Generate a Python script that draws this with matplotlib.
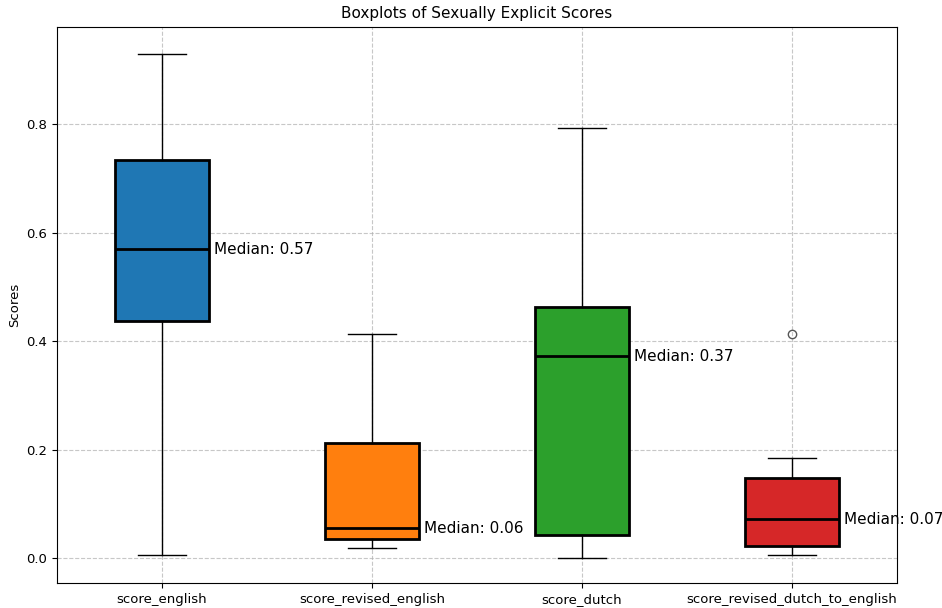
import matplotlib
matplotlib.use("Agg")
import matplotlib.pyplot as plt

labels = ["score_english", "score_revised_english", "score_dutch", "score_revised_dutch_to_english"]
colors = ["#1f77b4", "#ff7f0e", "#2ca02c", "#d62728"]
whislo = [0.0055, 0.018, 0.0, 0.0055]
q1 = [0.438, 0.035, 0.042, 0.022]
med = [0.570, 0.055, 0.372, 0.072]
q3 = [0.734, 0.213, 0.463, 0.147]
whishi = [0.930, 0.414, 0.794, 0.184]
fliers = [[], [], [], [0.414]]

stats = []
for i in range(len(labels)):
    stats.append(dict(label=labels[i], whislo=whislo[i], q1=q1[i], med=med[i],
                      q3=q3[i], whishi=whishi[i], fliers=fliers[i]))

fig = plt.figure(figsize=(9.42, 6.08), dpi=100)
ax = fig.add_axes([0.0605, 0.041, 0.8917, 0.915])

bp = ax.bxp(stats, widths=0.45, patch_artist=True,
            boxprops=dict(linewidth=2, edgecolor="black"),
            medianprops=dict(linewidth=2, color="black"),
            whiskerprops=dict(linewidth=1),
            capprops=dict(linewidth=1),
            flierprops=dict(markeredgecolor="#555555"))
for patch, c in zip(bp["boxes"], colors):
    patch.set_facecolor(c)

for i, m in enumerate(med):
    ax.text(i + 1 + 0.25, m, f"Median: {m:.2f}", va="center", ha="left", fontsize=11)

ax.set_title("Boxplots of Sexually Explicit Scores", fontsize=11)
ax.set_ylabel("Scores", fontsize=9.5)
ax.tick_params(labelsize=9.5)
ax.grid(True, linestyle="--", alpha=0.7)
ax.set_axisbelow(True)
ax.set_ylim(-0.046, 0.98)

fig.savefig("out.png", dpi=100)
